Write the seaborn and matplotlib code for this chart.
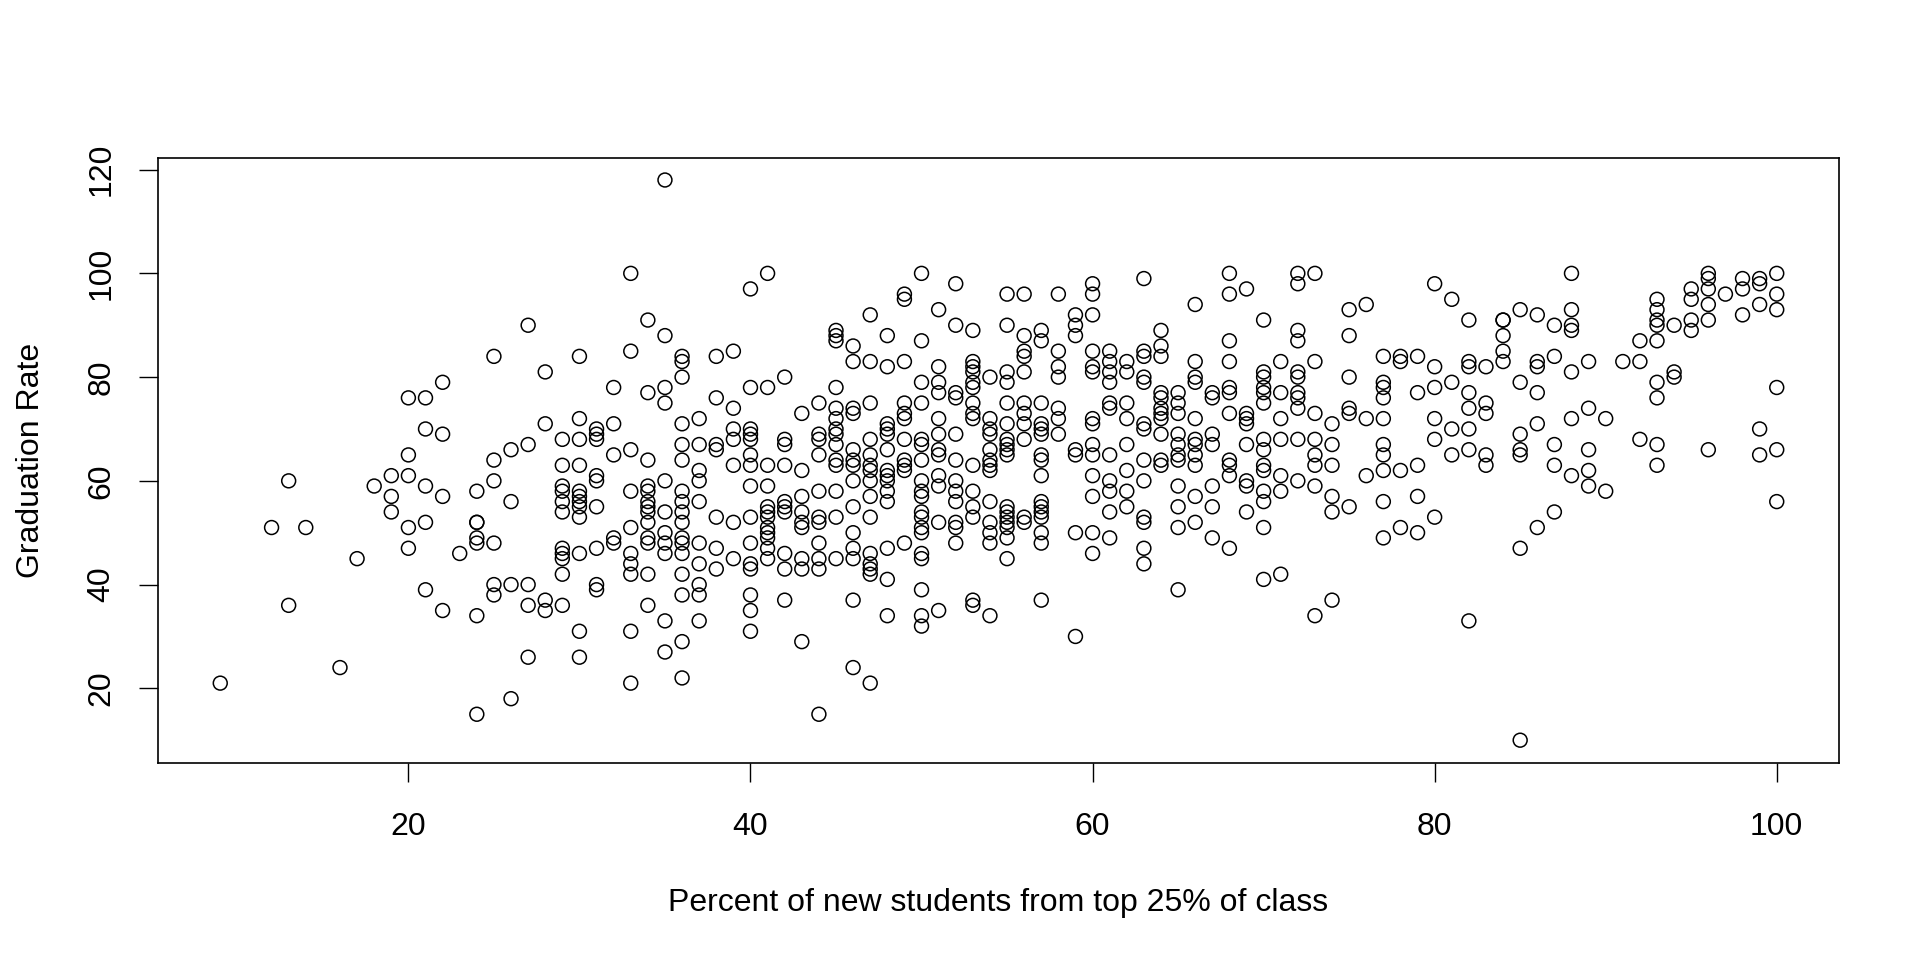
import matplotlib
matplotlib.use("Agg")
import matplotlib.pyplot as plt
import seaborn as sns
import pandas as pd

# College data: Top25perc vs Grad.Rate
top25_perc = [
    9, 12, 13, 13, 14, 16, 17, 18, 19, 19, 19,
    20, 20, 20, 20, 20, 21, 21, 21, 21, 21, 22, 22, 22, 22, 23,
    24, 24, 24, 24, 24, 24, 24, 25, 25, 25, 25, 25, 25,
    26, 26, 26, 26, 27, 27, 27, 27, 27, 28, 28, 28, 28,
    29, 29, 29, 29, 29, 29, 29, 29, 29, 29, 29,
    30, 30, 30, 30, 30, 30, 30, 30, 30, 30, 30, 30,
    31, 31, 31, 31, 31, 31, 31, 31, 31, 32, 32, 32, 32, 32,
    33, 33, 33, 33, 33, 33, 33, 33, 33, 33,
    34, 34, 34, 34, 34, 34, 34, 34, 34, 34, 34, 34, 34,
    35, 35, 35, 35, 35, 35, 35, 35, 35, 35, 35,
    36, 36, 36, 36, 36, 36, 36, 36, 36, 36, 36, 36, 36, 36, 36, 36, 36,
    37, 37, 37, 37, 37, 37, 37, 37, 37, 37,
    38, 38, 38, 38, 38, 38, 38, 39, 39, 39, 39, 39, 39, 39,
    40, 40, 40, 40, 40, 40, 40, 40, 40, 40, 40, 40, 40, 40, 40,
    41, 41, 41, 41, 41, 41, 41, 41, 41, 41, 41, 41,
    42, 42, 42, 42, 42, 42, 42, 42, 42, 42,
    43, 43, 43, 43, 43, 43, 43, 43, 43,
    44, 44, 44, 44, 44, 44, 44, 44, 44, 44, 44,
    45, 45, 45, 45, 45, 45, 45, 45, 45, 45, 45, 45, 45, 45,
    46, 46, 46, 46, 46, 46, 46, 46, 46, 46, 46, 46, 46, 46,
    47, 47, 47, 47, 47, 47, 47, 47, 47, 47, 47, 47, 47, 47, 47,
    48, 48, 48, 48, 48, 48, 48, 48, 48, 48, 48, 48, 48, 48,
    49, 49, 49, 49, 49, 49, 49, 49, 49, 49, 49,
    50, 50, 50, 50, 50, 50, 50, 50, 50, 50, 50, 50, 50, 50, 50, 50, 50, 50, 50,
    51, 51, 51, 51, 51, 51, 51, 51, 51, 51, 51, 51,
    52, 52, 52, 52, 52, 52, 52, 52, 52, 52, 52, 52,
    53, 53, 53, 53, 53, 53, 53, 53, 53, 53, 53, 53, 53, 53, 53,
    54, 54, 54, 54, 54, 54, 54, 54, 54, 54, 54, 54, 54,
    55, 55, 55, 55, 55, 55, 55, 55, 55, 55, 55, 55, 55, 55, 55, 55, 55,
    56, 56, 56, 56, 56, 56, 56, 56, 56, 56, 56,
    57, 57, 57, 57, 57, 57, 57, 57, 57, 57, 57, 57, 57, 57, 57, 57,
    58, 58, 58, 58, 58, 58, 58, 59, 59, 59, 59, 59, 59, 59,
    60, 60, 60, 60, 60, 60, 60, 60, 60, 60, 60, 60, 60, 60,
    61, 61, 61, 61, 61, 61, 61, 61, 61, 61, 61,
    62, 62, 62, 62, 62, 62, 62, 62,
    63, 63, 63, 63, 63, 63, 63, 63, 63, 63, 63, 63, 63,
    64, 64, 64, 64, 64, 64, 64, 64, 64, 64, 64,
    65, 65, 65, 65, 65, 65, 65, 65, 65, 65, 65,
    66, 66, 66, 66, 66, 66, 66, 66, 66, 66, 66,
    67, 67, 67, 67, 67, 67, 67,
    68, 68, 68, 68, 68, 68, 68, 68, 68, 68, 68,
    69, 69, 69, 69, 69, 69, 69, 69,
    70, 70, 70, 70, 70, 70, 70, 70, 70, 70, 70, 70, 70, 70,
    71, 71, 71, 71, 71, 71, 71,
    72, 72, 72, 72, 72, 72, 72, 72, 72, 72, 72,
    73, 73, 73, 73, 73, 73, 73, 73,
    74, 74, 74, 74, 74, 74, 75, 75, 75, 75, 75, 75, 76, 76, 76,
    77, 77, 77, 77, 77, 77, 77, 77, 77, 77,
    78, 78, 78, 78, 79, 79, 79, 79, 79,
    80, 80, 80, 80, 80, 80, 81, 81, 81, 81,
    82, 82, 82, 82, 82, 82, 82, 82, 83, 83, 83, 83, 83,
    84, 84, 84, 84, 84, 85, 85, 85, 85, 85, 85, 85,
    86, 86, 86, 86, 86, 86, 87, 87, 87, 87, 87,
    88, 88, 88, 88, 88, 88, 88, 89, 89, 89, 89, 89,
    90, 90, 91, 92, 92, 92,
    93, 93, 93, 93, 93, 93, 93, 93, 93, 94, 94, 94,
    95, 95, 95, 95, 96, 96, 96, 96, 96, 96, 97, 98, 98, 98,
    99, 99, 99, 99, 99, 100, 100, 100, 100, 100, 100,
]
grad_rate = [
    21, 51, 60, 36, 51, 24, 45, 59, 61, 57, 54,
    76, 65, 61, 51, 47, 76, 70, 59, 52, 39, 79, 69, 57, 35, 46,
    58, 52, 52, 49, 48, 34, 15, 84, 64, 60, 48, 40, 38,
    66, 56, 40, 18, 90, 67, 40, 36, 26, 81, 71, 37, 35,
    68, 63, 59, 58, 56, 54, 47, 46, 45, 42, 36,
    84, 72, 68, 63, 58, 57, 56, 55, 53, 46, 31, 26,
    70, 69, 68, 61, 60, 55, 47, 40, 39, 78, 71, 65, 49, 48,
    100, 85, 66, 58, 51, 46, 44, 42, 31, 21,
    91, 77, 64, 59, 58, 56, 55, 54, 52, 49, 48, 42, 36,
    118, 88, 78, 75, 60, 54, 50, 48, 46, 33, 27,
    84, 83, 80, 71, 67, 64, 58, 56, 54, 52, 49, 48, 46, 42, 38, 29, 22,
    72, 67, 62, 60, 56, 48, 44, 40, 38, 33,
    84, 76, 67, 66, 53, 47, 43, 85, 74, 70, 68, 63, 52, 45,
    97, 78, 70, 69, 68, 65, 63, 59, 53, 48, 44, 43, 38, 35, 31,
    100, 78, 63, 59, 55, 54, 53, 51, 50, 49, 47, 45,
    80, 68, 67, 63, 56, 55, 54, 46, 43, 37,
    73, 62, 57, 54, 52, 51, 45, 43, 29,
    75, 69, 68, 65, 58, 53, 52, 48, 45, 43, 15,
    89, 88, 87, 78, 74, 72, 70, 69, 67, 64, 63, 58, 53, 45,
    86, 83, 74, 73, 66, 64, 63, 60, 55, 50, 47, 45, 37, 24,
    92, 83, 75, 68, 65, 63, 62, 60, 57, 53, 46, 44, 43, 42, 21,
    88, 82, 71, 70, 69, 66, 62, 61, 60, 58, 56, 47, 41, 34,
    96, 95, 83, 75, 73, 72, 68, 64, 63, 62, 48,
    100, 87, 79, 75, 68, 67, 64, 60, 58, 57, 54, 53, 51, 50, 46, 45, 39, 34, 32,
    93, 82, 79, 77, 72, 69, 66, 65, 61, 59, 52, 35,
    98, 90, 77, 76, 69, 64, 60, 58, 56, 52, 51, 48,
    89, 83, 82, 81, 79, 78, 75, 73, 72, 63, 58, 55, 53, 37, 36,
    80, 72, 70, 69, 66, 64, 63, 62, 56, 52, 50, 48, 34,
    96, 90, 81, 79, 75, 71, 68, 67, 66, 65, 55, 54, 53, 52, 51, 49, 45,
    96, 88, 85, 84, 81, 75, 73, 71, 68, 53, 52,
    89, 87, 75, 71, 70, 69, 65, 64, 61, 56, 55, 54, 53, 50, 48, 37,
    96, 85, 82, 80, 74, 72, 69, 92, 90, 88, 66, 65, 50, 30,
    98, 96, 92, 85, 82, 81, 72, 71, 67, 65, 61, 57, 50, 46,
    85, 83, 81, 79, 75, 74, 65, 60, 58, 54, 49,
    83, 81, 75, 72, 67, 62, 58, 55,
    99, 85, 84, 80, 79, 71, 70, 64, 60, 53, 52, 47, 44,
    89, 86, 84, 77, 76, 74, 73, 72, 69, 64, 63,
    77, 75, 73, 69, 67, 65, 64, 59, 55, 51, 39,
    94, 83, 80, 79, 72, 68, 67, 65, 63, 57, 52,
    77, 76, 69, 67, 59, 55, 49,
    100, 96, 87, 83, 78, 77, 73, 64, 63, 61, 47,
    97, 73, 72, 71, 67, 60, 59, 54,
    91, 81, 80, 78, 77, 75, 68, 66, 63, 62, 58, 56, 51, 41,
    83, 77, 72, 68, 61, 58, 42,
    100, 98, 89, 87, 81, 80, 77, 76, 74, 68, 60,
    100, 83, 73, 68, 65, 63, 59, 34,
    71, 67, 63, 57, 54, 37, 93, 88, 80, 74, 73, 55, 94, 72, 61,
    84, 79, 78, 76, 72, 67, 65, 62, 56, 49,
    84, 83, 62, 51, 84, 77, 63, 57, 50,
    98, 82, 78, 72, 68, 53, 95, 79, 70, 65,
    91, 83, 82, 77, 74, 70, 66, 33, 82, 75, 73, 65, 63,
    91, 91, 88, 85, 83, 93, 79, 69, 66, 65, 47, 10,
    92, 83, 82, 77, 71, 51, 90, 84, 67, 63, 54,
    100, 93, 90, 89, 81, 72, 61, 83, 74, 66, 62, 59,
    72, 58, 83, 87, 83, 68,
    95, 93, 91, 90, 87, 79, 76, 67, 63, 90, 81, 80,
    97, 95, 91, 89, 100, 99, 97, 94, 91, 66, 96, 99, 97, 92,
    99, 98, 94, 70, 65, 100, 96, 93, 78, 66, 56,
]

x_label = "Percent of new students from top 25% of class"
y_label = "Graduation Rate"
x_ticks = [20, 40, 60, 80, 100]
y_ticks = [20, 40, 60, 80, 100, 120]

df = pd.DataFrame({"Top25perc": top25_perc, "Grad.Rate": grad_rate})

sns.set_style("ticks")
plt.rcParams["font.family"] = ["Liberation Sans", "DejaVu Sans"]
plt.rcParams["text.color"] = "black"
plt.rcParams["axes.labelcolor"] = "black"

fig = plt.figure(figsize=(19.2, 9.6), dpi=100)
ax = fig.add_axes([158 / 1920, 197.4 / 960, 1681 / 1920, 605 / 960])

sns.scatterplot(data=df, x="Top25perc", y="Grad.Rate", ax=ax, marker="o", s=100,
                facecolors="none", edgecolor="black", linewidth=1.1)

# base R style axis ranges (4% padding)
xr = df["Top25perc"].max() - df["Top25perc"].min()
yr = df["Grad.Rate"].max() - df["Grad.Rate"].min()
ax.set_xlim(df["Top25perc"].min() - 0.04 * xr, df["Top25perc"].max() + 0.04 * xr)
ax.set_ylim(df["Grad.Rate"].min() - 0.04 * yr, df["Grad.Rate"].max() + 0.04 * yr)

ax.set_xticks(x_ticks)
ax.set_yticks(y_ticks)
ax.tick_params(direction="out", length=13.9, width=1.0, colors="black", labelsize=23)
ax.tick_params(axis="x", pad=22)
ax.tick_params(axis="y", pad=16, labelrotation=90)
plt.setp(ax.get_yticklabels(), va="center")

for sp in ax.spines.values():
    sp.set_visible(True)
    sp.set_color("black")
    sp.set_linewidth(1.2)

ax.set_xlabel(x_label, fontsize=23, color="black")
ax.set_ylabel(y_label, fontsize=23, color="black")
ax.xaxis.set_label_coords(0.5, -0.208)
ax.yaxis.set_label_coords(-0.0664, 0.5)

fig.savefig("out.png", dpi=100)
